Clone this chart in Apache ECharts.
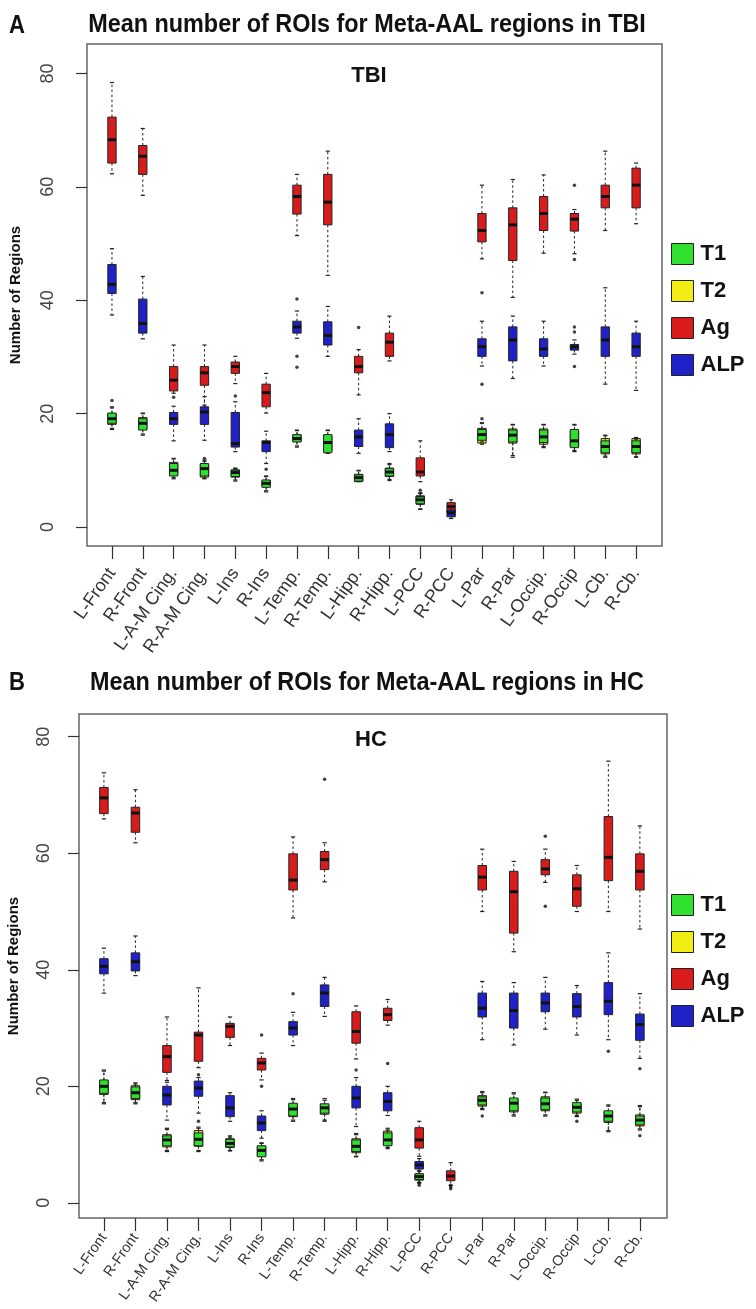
<!DOCTYPE html>
<html><head><meta charset="utf-8">
<script src="https://cdn.jsdelivr.net/npm/echarts@6/dist/echarts.min.js"></script>
<style>html,body{margin:0;padding:0;background:#fff}#c{width:756px;height:1309px}</style>
</head><body><div id="c"></div>
<script>
const categories = ['L-Front','R-Front','L-A-M Cing.','R-A-M Cing.','L-Ins','R-Ins','L-Temp.','R-Temp.','L-Hipp.','R-Hipp.','L-PCC','R-PCC','L-Par','R-Par','L-Occip.','R-Occip','L-Cb.','R-Cb.'];
const yTicks = [0, 20, 40, 60, 80];
const seriesNames = ['T1', 'T2', 'Ag', 'ALP'];

// Panel A (TBI): [lower whisker, Q1, median, Q3, upper whisker]
const tbiT1 = [[17.2,18.3,19.1,20.1,21.2],[16.2,17.1,18.3,19.1,20.1],[8.5,9.0,10.0,11.2,12.1],[8.5,9.0,10.3,11.2,11.6],[8.1,8.9,9.6,10.0,10.3],[6.2,7.0,7.7,8.3,9.0],[14.1,15.0,15.6,16.3,17.1],[13.0,13.1,14.9,16.3,17.1],[8.0,8.1,8.7,9.2,10.0],[8.2,9.0,9.7,10.3,11.2],[3.1,4.1,4.8,5.3,6.0],null,[15.0,15.3,16.3,17.2,18.3],[12.3,15.0,16.2,17.1,18.1],[14.2,14.9,15.9,17.1,18.1],[13.3,14.0,15.2,17.2,18.1],[12.3,13.1,14.2,15.2,16.2],[12.3,13.1,14.2,15.2,15.5]];
const tbiT2 = [[17.4,18.1,19.3,20.0,21.0],[16.4,17.3,18.1,19.3,20.0],[8.7,9.2,10.2,11.4,12.0],[8.6,8.8,10.0,11.0,11.8],[8.3,8.8,9.4,10.1,10.4],[6.4,7.2,7.9,8.2,8.9],[14.3,15.1,15.8,16.2,17.0],[13.2,13.4,15.1,16.1,17.0],[8.1,8.0,8.6,9.3,9.9],[8.4,8.9,9.8,10.4,11.0],[3.2,4.0,4.6,5.4,5.9],null,[14.6,14.8,16.0,17.4,18.4],[12.6,14.8,16.4,17.3,18.0],[14.0,14.6,16.2,17.3,18.0],[13.5,14.2,15.0,16.9,18.0],[12.5,12.9,14.4,15.6,16.1],[12.4,12.9,14.0,15.6,15.8]];
const tbiAg = [[62.3,64.2,68.3,72.3,78.4],[58.5,62.2,65.4,67.3,70.3],[23.6,24.0,25.9,28.3,32.1],[21.5,25.0,27.2,28.3,32.1],[25.3,27.1,28.3,29.1,30.1],[20.1,21.2,23.7,25.2,27.1],[51.4,55.2,58.3,60.3,62.2],[44.4,53.3,57.3,62.2,66.3],[23.3,27.2,28.3,30.1,31.3],[29.3,30.1,32.6,34.2,37.2],[8.0,9.0,9.7,12.2,15.2],[2.0,2.6,3.6,4.3,4.8],[47.3,50.3,52.3,55.3,60.3],[40.5,47.0,53.3,56.3,61.3],[48.3,52.3,55.3,58.3,62.1],[48.2,52.2,54.3,55.3,56.0],[52.3,56.3,58.3,60.3,66.3],[53.5,56.3,60.3,63.3,64.2]];
const tbiALP = [[37.4,41.2,42.8,46.3,49.1],[33.2,34.2,35.9,40.2,44.2],[15.2,18.1,19.1,20.2,21.3],[15.3,18.1,20.3,21.2,23.0],[13.3,14.1,14.7,20.2,22.1],[11.2,13.3,14.9,15.2,16.9],[33.3,34.2,35.3,36.3,38.1],[30.1,32.1,33.8,36.2,38.9],[13.0,14.2,15.9,17.1,19.1],[13.3,14.0,16.3,18.2,20.0],[4.0,4.5,5.0,5.5,6.0],[1.5,1.8,2.5,3.0,3.4],[28.4,30.1,31.8,33.2,36.3],[26.2,29.3,33.0,35.3,37.2],[28.4,30.1,31.4,33.2,36.3],[30.5,31.2,31.8,32.2,33.0],[25.2,30.1,33.0,35.3,42.2],[24.1,30.1,31.8,34.2,36.3]];
const tbiOutliers = [['L-Front',22.3],['R-A-M Cing.',12.1],['L-A-M Cing.',22.9],['L-Ins',23.1],['R-Ins',10.2],['L-Temp.',40.2],['L-Temp.',30.1],['L-Temp.',28.2],['L-Hipp.',35.2],['L-PCC',6.5],['L-Par',41.3],['L-Par',25.2],['L-Par',19.1],['R-Occip',60.3],['R-Occip',47.2],['R-Occip',35.3],['R-Occip',34.4],['R-Occip',28.3]];

// Panel B (HC)
const hcT1 = [[17.0,18.8,20.0,21.1,22.8],[17.0,17.9,18.9,19.9,20.4],[8.8,9.8,10.8,11.5,12.8],[8.8,9.8,10.9,12.0,12.8],[8.9,9.6,10.2,10.9,11.3],[7.2,7.9,9.0,9.8,10.3],[14.0,14.9,16.1,17.1,17.9],[14.0,15.4,16.3,17.0,17.9],[7.9,8.8,9.7,10.8,11.7],[9.3,9.8,10.8,12.0,12.5],[3.5,4.0,4.5,5.0,5.5],null,[16.0,16.8,17.6,18.2,18.9],[14.9,15.8,17.1,18.0,18.9],[14.9,16.0,17.0,18.0,18.9],[14.8,15.6,16.4,17.2,17.8],[12.2,14.0,14.9,15.8,16.8],[12.5,13.4,14.2,14.9,16.7]];
const hcT2 = [[17.2,18.6,19.8,21.0,22.6],[17.2,17.7,19.1,20.1,20.6],[9.0,9.6,10.6,11.7,12.6],[9.0,9.7,11.2,12.4,13.0],[9.0,9.5,10.4,11.0,11.5],[7.4,8.0,8.8,9.7,10.2],[14.2,14.8,15.9,16.9,17.7],[14.2,15.2,16.1,16.8,17.6],[8.0,8.6,9.5,11.0,11.9],[9.5,10.0,11.0,12.3,12.8],[3.4,3.9,4.4,4.9,5.4],null,[16.2,16.6,17.4,18.4,19.1],[15.1,15.6,16.9,17.8,18.7],[15.1,15.8,16.8,18.2,19.0],[15.0,15.4,16.2,17.0,17.6],[12.4,13.8,14.7,15.6,16.6],[12.7,13.2,14.0,15.1,16.5]];
const hcAg = [[65.9,66.8,69.5,71.3,73.8],[61.8,63.6,66.9,67.9,70.9],[21.0,22.4,25.1,27.0,31.9],[23.2,24.3,28.8,29.3,36.9],[27.0,28.4,30.3,30.8,31.9],[21.1,22.8,24.0,24.8,25.7],[48.9,53.7,55.4,59.9,62.8],[55.1,57.2,58.9,60.3,61.8],[24.7,27.4,29.4,32.8,33.8],[30.5,31.3,32.3,33.4,34.9],[8.0,9.4,10.8,12.9,14.0],[3.0,3.8,4.6,5.5,6.9],[50.0,53.7,55.9,57.9,60.7],[43.1,46.3,53.4,56.9,58.6],[55.0,56.3,57.3,58.9,60.7],[50.0,50.9,53.9,56.3,57.9],[50.0,55.3,59.3,66.3,75.8],[47.0,53.7,56.9,59.9,64.7]];
const hcALP = [[36.0,39.3,40.6,41.9,43.7],[39.0,39.8,41.4,42.9,45.8],[14.2,16.8,18.5,20.0,20.7],[15.4,18.3,19.7,20.9,21.5],[14.0,14.8,16.3,18.4,18.9],[11.1,12.4,13.7,14.9,15.8],[27.0,28.8,30.0,31.1,32.7],[32.0,33.7,36.0,37.4,38.7],[13.1,16.3,18.0,20.0,21.5],[15.0,15.8,17.4,18.9,20.0],[5.0,5.8,6.5,7.1,7.6],null,[28.0,31.9,33.4,36.0,38.0],[27.1,30.0,33.0,36.0,37.8],[29.8,32.8,34.3,36.0,38.7],[28.8,31.9,33.7,35.9,37.3],[28.0,32.3,34.6,37.8,42.9],[24.8,27.9,30.6,32.4,35.9]];
const hcOutliers = [['R-A-M Cing.',22.0],['R-A-M Cing.',14.0],['R-Ins',28.8],['R-Ins',20.0],['R-Temp.',72.7],['L-Temp.',35.9],['L-Hipp.',22.8],['R-Hipp.',23.9],['L-PCC',3.4],['L-PCC',3.0],['R-PCC',3.0],['R-PCC',2.7],['R-PCC',2.4],['L-Occip.',62.9],['L-Occip.',50.9],['L-Par',14.9],['R-Occip',14.0],['L-Cb.',26.0],['R-Cb.',23.0],['R-Cb.',11.5]];

const colors = {T1: '#2fe02f', T2: '#f2ee14', Ag: '#d81c1c', ALP: '#1f22c6'};
const zOrder = {T1: 5, T2: 4, Ag: 2, ALP: 3};

function toItems(arr) {
  const out = [];
  arr.forEach((d, i) => { if (d) out.push([i + 1].concat(d)); });
  return out;
}
function toPoints(arr) {
  return arr.map(p => [categories.indexOf(p[0]) + 1, p[1]]);
}
function renderBox(params, api) {
  const x = api.value(0);
  const p = [1, 2, 3, 4, 5].map(k => api.coord([x, api.value(k)]));
  const cx = p[0][0];
  const w = api.size([0.27, 0])[0];
  const hw = w / 2, cw = w / 4;
  const color = api.visual('color');
  const dash = {stroke: '#222', lineWidth: 1, lineDash: [2.5, 2.5]};
  const solid = {stroke: '#222', lineWidth: 1.2};
  return {type: 'group', children: [
    {type: 'line', shape: {x1: cx, y1: p[3][1], x2: cx, y2: p[4][1]}, style: dash},
    {type: 'line', shape: {x1: cx, y1: p[1][1], x2: cx, y2: p[0][1]}, style: dash},
    {type: 'line', shape: {x1: cx - cw, y1: p[4][1], x2: cx + cw, y2: p[4][1]}, style: solid},
    {type: 'line', shape: {x1: cx - cw, y1: p[0][1], x2: cx + cw, y2: p[0][1]}, style: solid},
    {type: 'rect', shape: {x: cx - hw, y: p[3][1], width: w, height: p[1][1] - p[3][1]}, style: {fill: color, stroke: '#222', lineWidth: 1}},
    {type: 'line', shape: {x1: cx - hw, y1: p[2][1], x2: cx + hw, y2: p[2][1]}, style: {stroke: '#111', lineWidth: 3}}
  ]};
}

const panels = [
  {data: {T1: tbiT1, T2: tbiT2, Ag: tbiAg, ALP: tbiALP}, outliers: tbiOutliers},
  {data: {T1: hcT1, T2: hcT2, Ag: hcAg, ALP: hcALP}, outliers: hcOutliers}
];
const series = [];
panels.forEach((pn, idx) => {
  seriesNames.forEach(name => {
    series.push({
      type: 'custom', name: name, xAxisIndex: idx, yAxisIndex: idx, z: zOrder[name],
      itemStyle: {color: colors[name]},
      encode: {x: 0, y: [1, 2, 3, 4, 5]},
      renderItem: renderBox,
      data: toItems(pn.data[name])
    });
  });
  series.push({
    type: 'scatter', name: 'outliers', xAxisIndex: idx, yAxisIndex: idx, z: 6,
    symbolSize: 3.5, itemStyle: {color: '#111'}, data: toPoints(pn.outliers)
  });
});

const tickIdx = categories.map((c, i) => i + 1);
function xAxisCfg(gi, mn, mx, fs, mg) {
  return {
    type: 'value', gridIndex: gi, min: mn, max: mx, position: 'bottom',
    splitLine: {show: false}, axisLine: {show: false, onZero: false},
    axisTick: {show: true, inside: false, customValues: tickIdx, length: 13, lineStyle: {color: '#333', width: 1.2}},
    axisLabel: {customValues: tickIdx, formatter: v => categories[Math.round(v) - 1], rotate: 55,
      fontSize: fs, color: '#333', margin: mg, fontFamily: 'Liberation Sans'}
  };
}
function yAxisCfg(gi, mn, mx, lm, ng) {
  return {
    type: 'value', gridIndex: gi, min: mn, max: mx, position: 'left',
    splitLine: {show: false}, axisLine: {show: false, onZero: false},
    axisTick: {show: true, inside: false, customValues: yTicks, length: 11, lineStyle: {color: '#333', width: 1.2}},
    axisLabel: {customValues: yTicks, rotate: 90, fontSize: 18, color: '#444', margin: lm, fontFamily: 'Liberation Sans'},
    name: 'Number of Regions', nameLocation: 'middle', nameGap: ng,
    nameTextStyle: {fontSize: 15, fontWeight: 'bold', color: '#111', fontFamily: 'Liberation Sans'}
  };
}
function legendCfg(top) {
  return {
    data: seriesNames, orient: 'vertical', left: 671, top: top, icon: 'rect', padding: 0,
    itemWidth: 22, itemHeight: 21, itemGap: 15, selectedMode: false,
    itemStyle: {borderColor: '#222', borderWidth: 1},
    textStyle: {fontSize: 22, fontWeight: 'bold', color: '#111', fontFamily: 'Liberation Sans', padding: [0, 0, 0, 2]}
  };
}
function txt(x, y, s, font, sx, align) {
  return {type: 'text', x: x, y: y, scaleX: sx || 1,
    style: {text: s, font: font, fill: '#111', textAlign: align || 'center', textVerticalAlign: 'middle'}};
}

const chart = echarts.init(document.getElementById('c'), null, {renderer: 'canvas'});
chart.setOption({
  animation: false,
  backgroundColor: '#fff',
  grid: [
    {left: 87, top: 44, width: 575, height: 502, show: true, borderColor: '#666', borderWidth: 1.5, outerBoundsMode: 'none', containLabel: false},
    {left: 79, top: 714, width: 588, height: 504, show: true, borderColor: '#666', borderWidth: 1.5, outerBoundsMode: 'none', containLabel: false}
  ],
  xAxis: [xAxisCfg(0, 0.19, 18.84, 18, 24), xAxisCfg(1, 0.21, 18.86, 14.5, 17)],
  yAxis: [yAxisCfg(0, -3.35, 85.2, 30, 64), yAxisCfg(1, -2.6, 83.9, 26, 58)],
  legend: [legendCfg(243), legendCfg(894)],
  graphic: [
    txt(17, 26, 'A', 'bold 26px "Liberation Sans"', 0.85),
    txt(367, 25, 'Mean number of ROIs for Meta-AAL regions in TBI', 'bold 26px "Liberation Sans"', 0.9),
    txt(369, 76, 'TBI', 'bold 22px "Liberation Sans"'),
    txt(17, 683, 'B', 'bold 26px "Liberation Sans"', 0.85),
    txt(367, 683, 'Mean number of ROIs for Meta-AAL regions in HC', 'bold 26px "Liberation Sans"', 0.9),
    txt(371, 740, 'HC', 'bold 22px "Liberation Sans"')
  ],
  series: series
});
</script>
</body></html>
